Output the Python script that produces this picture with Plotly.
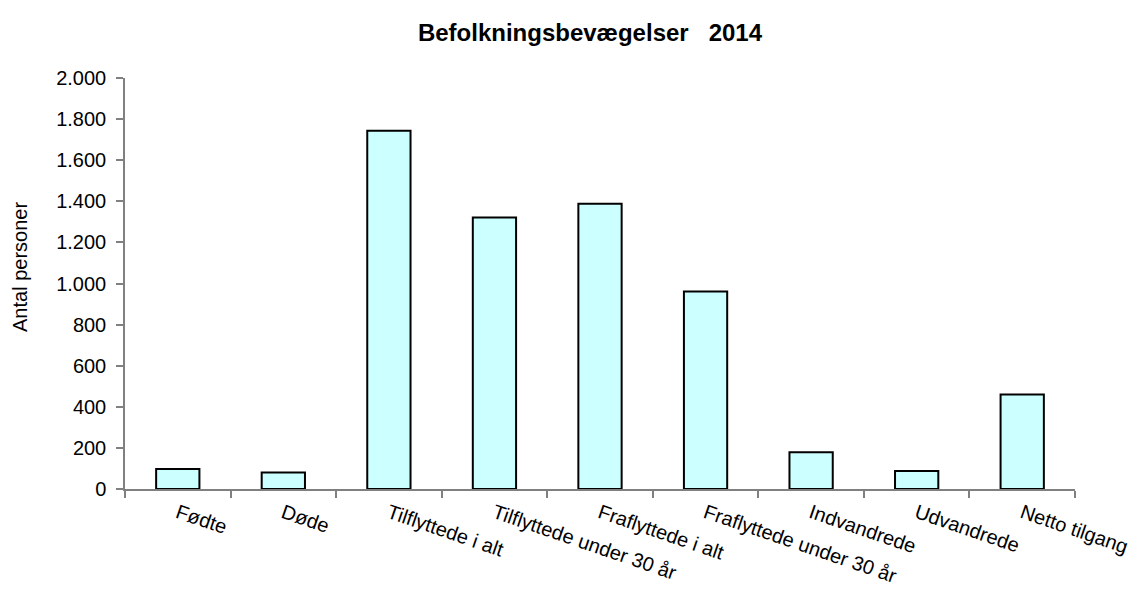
import plotly.graph_objects as go

categories = ["Fødte", "Døde", "Tilflyttede i alt", "Tilflyttede under 30 år",
              "Fraflyttede i alt", "Fraflyttede under 30 år", "Indvandrede",
              "Udvandrede", "Netto tilgang"]
values = [97, 80, 1743, 1321, 1388, 961, 179, 88, 460]
y_ticks = [0, 200, 400, 600, 800, 1000, 1200, 1400, 1600, 1800, 2000]

title_text = "Befolkningsbevægelser\u00a0\u00a0\u00a02014"
y_title = "Antal personer"

fig = go.Figure(go.Bar(
    x=categories, y=values, width=0.41,
    marker=dict(color="#CCFFFF", line=dict(color="#000000", width=2)),
))

font_family = "Liberation Sans, Arial, sans-serif"
fig.update_layout(
    width=1137, height=590,
    margin=dict(l=125, r=62, t=78, b=101, autoexpand=False),
    paper_bgcolor="white", plot_bgcolor="white",
    separators=",.",
    font=dict(family=font_family, size=20, color="#000000"),
    title=dict(text="<b>" + title_text + "</b>", x=590 / 1137, xanchor="center",
               y=1 - 33 / 590, yanchor="middle",
               font=dict(size=24, family=font_family, color="#000000")),
    showlegend=False,
    annotations=[dict(text=y_title, xref="paper", yref="paper",
                      x=(20 - 125) / 950, y=(489 - 267) / 411,
                      xanchor="center", yanchor="middle", textangle=-90,
                      showarrow=False, font=dict(size=20, family=font_family, color="#000000"))],
)
fig.update_xaxes(
    type="category", showgrid=False, showline=True, linecolor="#808080", linewidth=1.5,
    ticks="outside", tickson="boundaries", ticklen=7, tickcolor="#808080", tickwidth=1.5,
    tickangle=19, tickfont=dict(size=20), zeroline=False, automargin=False,
    ticklabelstandoff=3,
)
fig.update_yaxes(
    range=[0, 2000], tickvals=y_ticks, tickformat=",d", showgrid=False,
    showline=True, linecolor="#808080", linewidth=1.5,
    ticks="outside", ticklen=7, tickcolor="#808080", tickwidth=1.5,
    tickfont=dict(size=20), zeroline=False, automargin=False,
    ticklabelstandoff=6,
)

fig.write_html("out.html", config={"displayModeBar": False},
               post_script="document.body.style.margin='0';document.body.style.padding='0';")
